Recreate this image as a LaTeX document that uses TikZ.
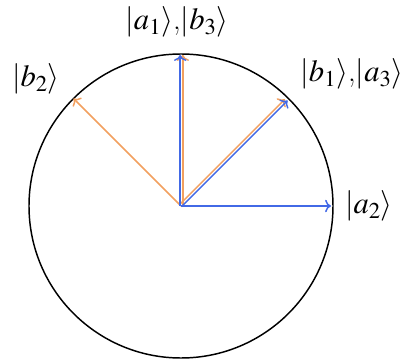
\documentclass[tikz,border=0pt]{standalone}
\usepackage{mathptmx}
\usepackage{xcolor}
\usetikzlibrary{arrows.meta}

\definecolor{vecblue}{RGB}{66,105,230}
\definecolor{vecorange}{RGB}{242,160,95}

\begin{document}
\begin{tikzpicture}[
        x=0.75pt, y=0.75pt,
        vec/.style={-{To[scale=1.1]}, line width=1.1pt},
        avec/.style={vec, draw=vecblue},
        bvec/.style={vec, draw=vecorange},
        ket/.style={inner sep=0pt, font=\fontsize{23}{27}\selectfont}
    ]
    \useasboundingbox (-181,-155) rectangle (224,206);
    \coordinate (O) at (0,0);
    \draw[line width=1.1pt] (O) circle (152);

    % tips of the vectors
    \coordinate (a1) at (90:151);
    \coordinate (a2) at (0:150);
    \coordinate (a3) at (45:150);
    \coordinate (b1) at (45:149);
    \coordinate (b2) at (135:152);
    \coordinate (b3) at (90:151);

    \draw[bvec] (O) -- (b2);
    \draw[bvec] ([xshift=1.4pt]O) -- ([xshift=1.4pt]b3);
    \draw[bvec] ([shift={(-1.1pt,1.1pt)}]O) -- ([shift={(-1.1pt,1.1pt)}]b1);
    \draw[avec] ([xshift=-0.6pt]O) -- ([xshift=-0.6pt]a1);
    \draw[avec] (O) -- (a2);
    \draw[avec] ([shift={(0.4pt,-0.4pt)}]O) -- ([shift={(0.4pt,-0.4pt)}]a3);

    \node[ket] (la1) at (-4,184) {$|a_1\rangle$,$|b_3\rangle$};
    \node[ket] (lb2) at (-145,127) {$|b_2\rangle$};
    \node[ket] (lb1) at (171,132) {$|b_1\rangle$,$|a_3\rangle$};
    \node[ket] (la2) at (188,0) {$|a_2\rangle$};
\end{tikzpicture}
\end{document}
